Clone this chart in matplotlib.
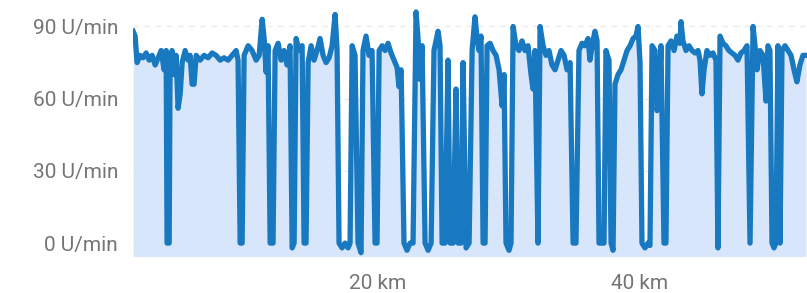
import matplotlib
matplotlib.use("Agg")
import matplotlib.pyplot as plt

# 距離 (km) 與踏頻 (U/min)
distance_km = [
    1.30, 1.45, 1.60, 1.83, 2.06, 2.29, 2.52, 2.75, 2.98, 3.21, 3.44, 3.66, 3.82, 3.89,
    4.05, 4.12, 4.27, 4.43, 4.58, 4.73, 4.89, 5.04, 5.27, 5.50, 5.65, 5.80, 5.95, 6.11,
    6.41, 6.72, 7.02, 7.33, 7.63, 7.94, 8.24, 8.55, 8.85, 9.16, 9.31, 9.47, 9.62, 9.77,
    10.08, 10.38, 10.69, 10.92, 11.15, 11.30, 11.45, 11.60, 11.76, 11.98, 12.14, 12.37,
    12.60, 12.82, 13.05, 13.28, 13.44, 13.59, 13.74, 13.97, 14.20, 14.35, 14.50, 14.66,
    14.89, 15.11, 15.34, 15.57, 15.80, 16.03, 16.26, 16.49, 16.72, 16.87, 17.02, 17.25,
    17.48, 17.71, 17.86, 18.02, 18.24, 18.47, 18.70, 18.85, 19.08, 19.31, 19.54, 19.77,
    19.92, 20.08, 20.31, 20.53, 20.76, 20.99, 21.22, 21.45, 21.60, 21.76, 21.98, 22.21,
    22.44, 22.67, 22.90, 23.05, 23.21, 23.36, 23.59, 23.82, 24.05, 24.27, 24.58, 24.73,
    24.89, 25.11, 25.34, 25.50, 25.73, 25.95, 26.11, 26.34, 26.49, 26.72, 26.95, 27.18,
    27.40, 27.56, 27.71, 27.86, 28.02, 28.17, 28.32, 28.55, 28.78, 29.01, 29.24, 29.47,
    29.62, 29.77, 30.00, 30.15, 30.31, 30.53, 30.76, 30.99, 31.22, 31.45, 31.68, 31.83,
    31.98, 32.21, 32.37, 32.60, 32.82, 33.05, 33.28, 33.51, 33.74, 33.97, 34.20, 34.43,
    34.66, 34.89, 35.11, 35.34, 35.57, 35.80, 36.03, 36.18, 36.41, 36.56, 36.72, 36.87,
    37.10, 37.25, 37.40, 37.63, 37.79, 37.94, 38.09, 38.32, 38.55, 38.78, 39.01, 39.24,
    39.47, 39.69, 39.85, 40.00, 40.15, 40.38, 40.61, 40.76, 40.92, 41.15, 41.30, 41.45,
    41.60, 41.83, 41.98, 42.14, 42.37, 42.60, 42.82, 43.05, 43.13, 43.28, 43.51, 43.74,
    43.97, 44.20, 44.43, 44.58, 44.73, 44.89, 45.11, 45.34, 45.57, 45.80, 45.95, 46.11,
    46.34, 46.56, 46.79, 47.02, 47.25, 47.48, 47.71, 47.94, 48.17, 48.40, 48.63, 48.78,
    48.93, 49.16, 49.39, 49.62, 49.77, 49.92, 50.08, 50.23, 50.38, 50.53, 50.69, 50.84,
    51.07, 51.30, 51.53, 51.76, 51.98, 52.21, 52.44, 52.67,
]
cadence = [
    88, 86, 75, 78, 77, 79, 76, 78, 74, 77, 80, 72, 80, 0,
    0, 75, 80, 70, 78, 56, 62, 75, 80, 76, 78, 66, 66, 78,
    76, 78, 77, 79, 78, 76, 77, 76, 78, 80, 76, 0, 0, 78,
    82, 80, 76, 78, 93, 85, 71, 82, 0, 0, 80, 83,
    76, 80, 74, 82, -2, 0, 85, 80, 82, 0, 0, 75,
    82, 76, 80, 85, 78, 75, 77, 82, 95, 80, 0, -2,
    0, -2, 0, 82, 78, 0, -4, 80, 86, 78, 80, 0,
    0, 80, 82, 80, 83, 79, 76, 73, 65, 72, 0, -3,
    0, 0, 96, 85, 68, 82, 0, -3, 0, 80, 88, 82,
    0, 0, 76, 0, 0, 64, 0, 0, 75, -2, 0, 80,
    94, 85, 80, 86, 0, 0, 82, 83, 80, 78, 72, 57,
    70, 0, -3, 0, 90, 82, 80, 84, 80, 82, 70, 64,
    80, 0, 90, 82, 78, 80, 74, 72, 76, 80, 78, 72,
    75, 0, 0, 80, 83, 82, 85, 76, 84, 88, 84, 0,
    0, 0, 80, 76, 0, -3, 66, 70, 72, 76, 80, 82,
    85, 86, 90, 75, 0, -2, 0, -1, 82, 80, 55, 60,
    82, 0, 0, 82, 84, 80, 86, 83, 92, 84, 80, 82,
    80, 79, 80, 76, 62, 72, 80, 78, 79, 76, -2, 86,
    83, 82, 80, 79, 78, 76, 79, 80, 82, 0, 90, 82,
    72, 80, 78, 59, 82, 80, 0, -2, 0, 82, 0, 80,
    82, 80, 78, 72, 67, 74, 78, 78,
]
y_ticks = [0, 30, 60, 90]
x_ticks = [20, 40]

line_color = "#1878c0"
fill_color = "#d7e6fa"
text_color = "#757575"

plt.rcParams["font.family"] = ["Roboto", "DejaVu Sans"]

fig = plt.figure(figsize=(8.07, 2.93), dpi=100)
ax = fig.add_axes([0.165, 0.126, 0.835, 0.874])

ax.fill_between(distance_km, -6, cadence, color=fill_color, linewidth=0, zorder=1)
ax.plot(distance_km, cadence, color=line_color, linewidth=3.8,
        solid_joinstyle="round", zorder=3)

ax.set_xlim(1.3, 52.75)
ax.set_ylim(-5.4, 101)

ax.set_yticks(y_ticks)
ax.set_yticklabels([f"{v} U/min" for v in y_ticks])
ax.set_xticks(x_ticks)
ax.set_xticklabels([f"{v} km" for v in x_ticks])
ax.tick_params(axis="both", length=0, labelsize=15, colors=text_color)
ax.tick_params(axis="y", pad=11)
ax.tick_params(axis="x", pad=13)

ax.grid(axis="y", color="#ebebeb", linestyle=(0, (4, 4)), linewidth=1, zorder=0)
ax.set_axisbelow(True)
for s in ax.spines.values():
    s.set_visible(False)

fig.savefig("out.png", dpi=100)
